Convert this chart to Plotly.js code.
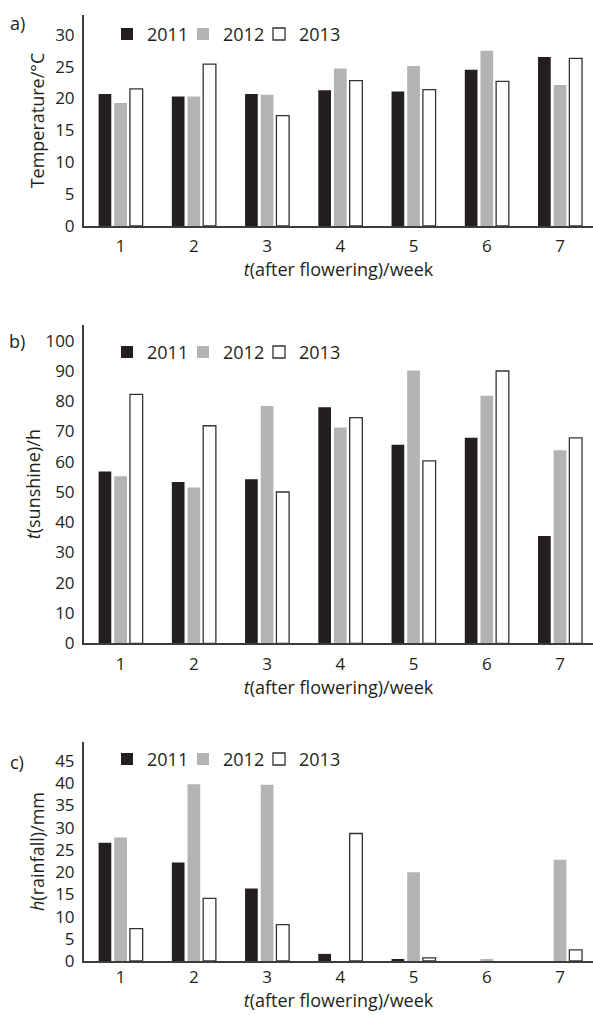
<!DOCTYPE html>
<html><head><meta charset="utf-8">
<script src="https://cdn.plot.ly/plotly-3.0.1.min.js"></script>
<style>html,body{margin:0;padding:0;background:#fff}#chart{width:593px;height:1015px}</style>
</head><body><div id="chart"></div>
<script>
// ---- data ----
const weeks = ['1','2','3','4','5','6','7'];
const years = ['2011','2012','2013'];
const temp2011 = [20.7,20.3,20.7,21.3,21.1,24.5,26.5];
const temp2012 = [19.3,20.3,20.6,24.7,25.1,27.5,22.1];
const temp2013 = [21.5,25.4,17.3,22.8,21.4,22.7,26.3];
const sun2011 = [56.8,53.3,54.2,78.0,65.6,67.9,35.5];
const sun2012 = [55.2,51.5,78.4,71.3,90.2,81.8,63.8];
const sun2013 = [82.3,71.9,50.0,74.6,60.3,90.0,67.9];
const rain2011 = [26.6,22.2,16.3,1.6,0.45,0,0];
const rain2012 = [27.8,39.8,39.7,0,20.0,0.45,22.8];
const rain2013 = [7.3,14.1,8.2,28.7,0.7,0,2.5];
const panelLabels = ['a)','b)','c)'];
const yTitles = ['Temperature/°C','<i>t</i>(sunshine)/h','<i>h</i>(rainfall)/mm'];
const xTitle = '<i>t</i>(after flowering)/week';
const tempTicks = [0,5,10,15,20,25,30];
const sunTicks = [0,10,20,30,40,50,60,70,80,90,100];
const rainTicks = [0,5,10,15,20,25,30,35,40,45];

// ---- styling ----
const W = 593, H = 1015;
const FONT = 'Open Sans, sans-serif';
const TXT = '#231f20';
const fills = ['#231f20','#b3b3b3','#ffffff'];
const lineColors = ['#231f20','#b3b3b3','#333333'];
const lineWidths = [0, 0, 1.3];
const panels = [
  {data:[temp2011,temp2012,temp2013], ticks:tempTicks, range:[0,33.1], top:15, bottom:226, legendY:34.3, labelY:23, yStandoff:6, xTickStandoff:4},
  {data:[sun2011,sun2012,sun2013], ticks:sunTicks, range:[0,105.2], top:325, bottom:643.3, legendY:352.3, labelY:341, yStandoff:0, xTickStandoff:4},
  {data:[rain2011,rain2012,rain2013], ticks:rainTicks, range:[0,49.3], top:742, bottom:961, legendY:759.3, labelY:762, yStandoff:6, xTickStandoff:0}
];
const axisX0 = 84;

const traces = [];
const layout = {
  width: W, height: H,
  margin: {l:0, r:0, t:0, b:0},
  paper_bgcolor: '#fff', plot_bgcolor: '#fff',
  font: {family: FONT, color: TXT, size: 17},
  barmode: 'group', bargap: 0.358, bargroupgap: 0.19,
  showlegend: true,
  annotations: []
};

panels.forEach((p, i) => {
  const n = i === 0 ? '' : String(i + 1);
  const legendName = 'legend' + n;
  years.forEach((yr, k) => {
    const vals = p.data[k];
    const t = {
      type: 'bar', x: weeks, y: vals, name: yr,
      xaxis: 'x' + n, yaxis: 'y' + n, legend: legendName,
      marker: {color: fills[k], line: {color: lineColors[k], width: vals.map(v => v > 0 ? lineWidths[k] : 0)}},
      hoverinfo: 'skip'
    };
    if (k === 2) t.legendwidth = 50;
    traces.push(t);
  });
  layout['xaxis' + n] = {
    domain: [axisX0 / W, 1], anchor: 'y' + n, type: 'category',
    range: [-0.5, 6.45], showgrid: false, zeroline: false,
    showline: true, linecolor: '#3c3c3c', linewidth: 2,
    ticks: '', tickfont: {size: 17, color: TXT}, ticklabelstandoff: p.xTickStandoff,
    title: {text: xTitle, font: {size: 18, color: TXT}, standoff: 0},
    fixedrange: true
  };
  layout['yaxis' + n] = {
    domain: [1 - p.bottom / H, 1 - p.top / H], anchor: 'x' + n,
    range: p.range, tickvals: p.ticks, showgrid: false, zeroline: false,
    showline: true, linecolor: '#3c3c3c', linewidth: 2,
    ticks: '', tickfont: {size: 17, color: TXT}, ticklabelstandoff: 4,
    title: {text: yTitles[i], font: {size: 18, color: TXT}, standoff: p.yStandoff},
    fixedrange: true
  };
  layout[legendName] = {
    orientation: 'h', x: 107 / W, xanchor: 'left',
    y: 1 - p.legendY / H, yanchor: 'middle',
    font: {size: 18, color: TXT}, bgcolor: 'rgba(0,0,0,0)',
    entrywidth: 31, entrywidthmode: 'pixels', traceorder: 'normal'
  };
  layout.annotations.push({
    text: panelLabels[i], xref: 'paper', yref: 'paper',
    x: 17 / W, y: 1 - p.labelY / H, xanchor: 'center', yanchor: 'middle',
    showarrow: false, font: {size: 18, color: TXT}
  });
});

Plotly.newPlot('chart', traces, layout, {staticPlot: true, displayModeBar: false});
</script>
</body></html>
